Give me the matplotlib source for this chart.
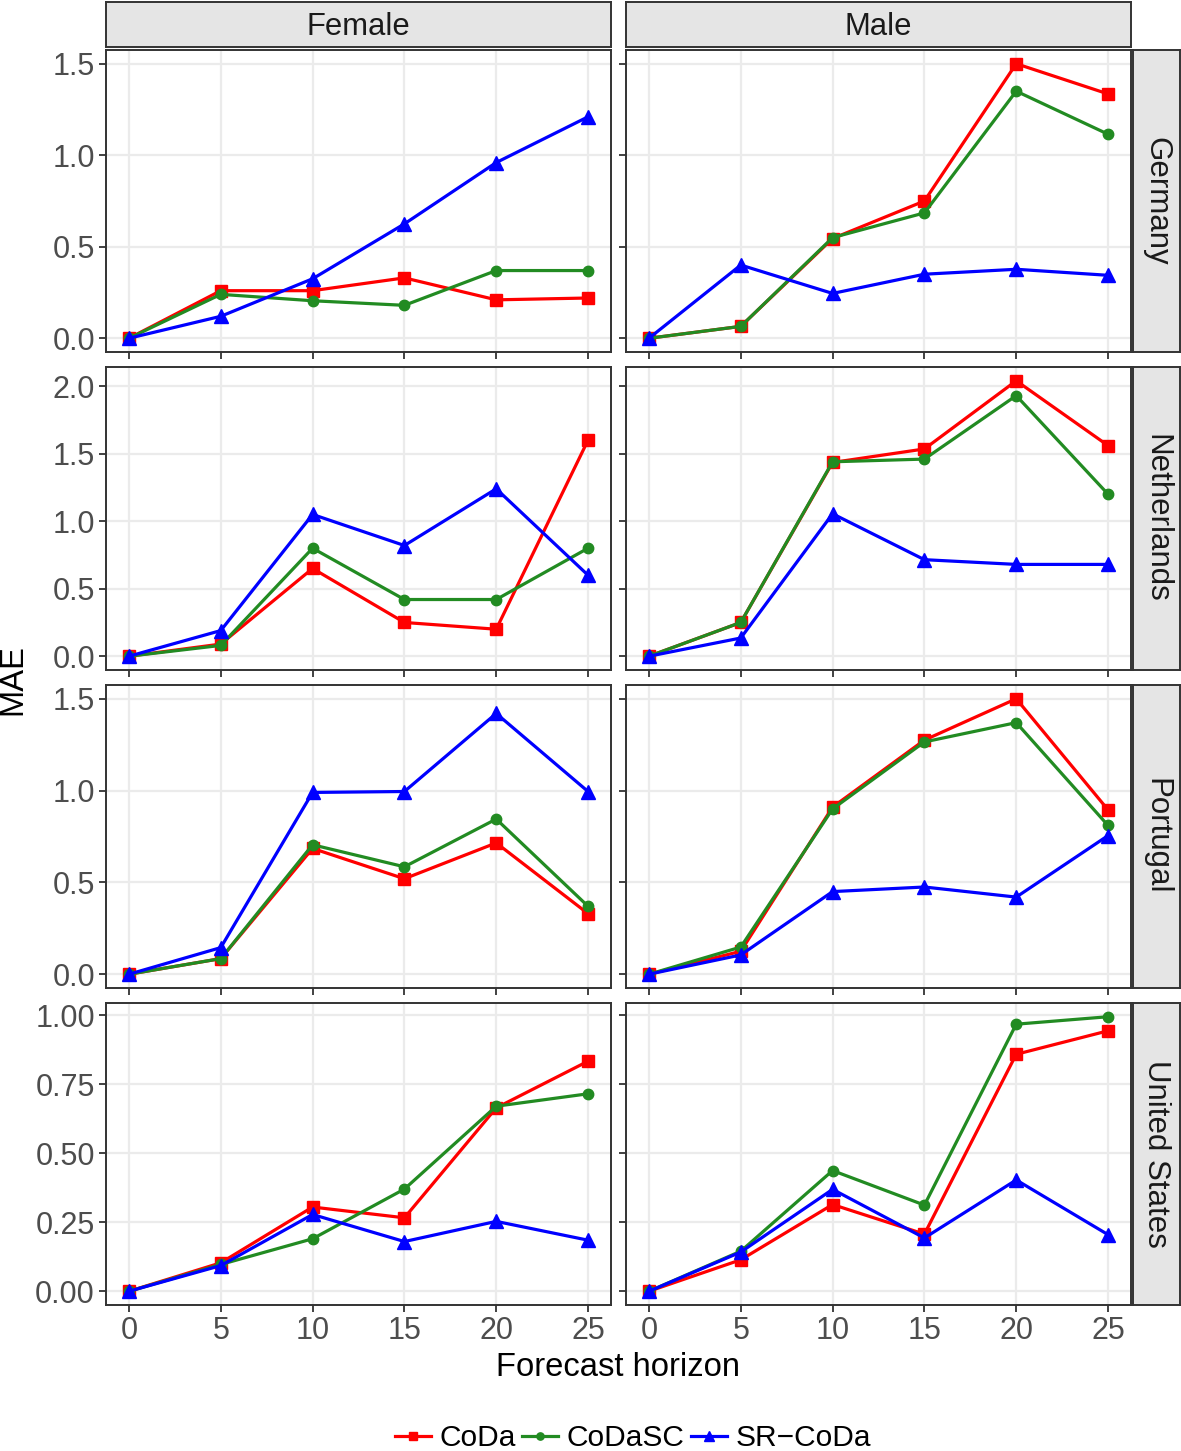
import matplotlib.pyplot as plt
from matplotlib.lines import Line2D

plt.rcParams['font.family'] = ['Liberation Sans', 'DejaVu Sans']

horizon = [0, 5, 10, 15, 20, 25]
sexes = ['Female', 'Male']
countries = ['Germany', 'Netherlands', 'Portugal', 'United States']
methods = ['CoDa', 'CoDaSC', 'SR\u2212CoDa']

# MAE values: mae[country][sex][method]
germany_female_coda = [0, 0.26, 0.26, 0.33, 0.21, 0.22]
germany_female_codasc = [0, 0.24, 0.205, 0.18, 0.37, 0.37]
germany_female_sr = [0, 0.12, 0.325, 0.625, 0.96, 1.21]
germany_male_coda = [0, 0.065, 0.545, 0.75, 1.5, 1.335]
germany_male_codasc = [0, 0.065, 0.55, 0.685, 1.35, 1.115]
germany_male_sr = [0, 0.40, 0.245, 0.35, 0.377, 0.344]

netherlands_female_coda = [0, 0.09, 0.65, 0.25, 0.20, 1.60]
netherlands_female_codasc = [0, 0.08, 0.80, 0.42, 0.42, 0.80]
netherlands_female_sr = [0, 0.19, 1.05, 0.82, 1.24, 0.60]
netherlands_male_coda = [0, 0.25, 1.435, 1.535, 2.04, 1.56]
netherlands_male_codasc = [0, 0.25, 1.44, 1.46, 1.93, 1.20]
netherlands_male_sr = [0, 0.135, 1.055, 0.715, 0.68, 0.68]

portugal_female_coda = [0, 0.085, 0.685, 0.52, 0.715, 0.33]
portugal_female_codasc = [0, 0.085, 0.705, 0.585, 0.845, 0.37]
portugal_female_sr = [0, 0.145, 0.99, 0.995, 1.42, 0.995]
portugal_male_coda = [0, 0.125, 0.91, 1.275, 1.50, 0.895]
portugal_male_codasc = [0, 0.148, 0.90, 1.265, 1.37, 0.81]
portugal_male_sr = [0, 0.105, 0.45, 0.475, 0.42, 0.755]

us_female_coda = [0, 0.103, 0.305, 0.266, 0.664, 0.833]
us_female_codasc = [0, 0.097, 0.19, 0.37, 0.67, 0.715]
us_female_sr = [0, 0.093, 0.278, 0.18, 0.253, 0.185]
us_male_coda = [0, 0.114, 0.314, 0.207, 0.858, 0.943]
us_male_codasc = [0, 0.145, 0.437, 0.312, 0.967, 0.994]
us_male_sr = [0, 0.142, 0.369, 0.193, 0.403, 0.205]

mae = {
    'Germany': [[germany_female_coda, germany_female_codasc, germany_female_sr],
                [germany_male_coda, germany_male_codasc, germany_male_sr]],
    'Netherlands': [[netherlands_female_coda, netherlands_female_codasc, netherlands_female_sr],
                    [netherlands_male_coda, netherlands_male_codasc, netherlands_male_sr]],
    'Portugal': [[portugal_female_coda, portugal_female_codasc, portugal_female_sr],
                 [portugal_male_coda, portugal_male_codasc, portugal_male_sr]],
    'United States': [[us_female_coda, us_female_codasc, us_female_sr],
                      [us_male_coda, us_male_codasc, us_male_sr]],
}
yticks = {
    'Germany': ([0, 0.5, 1.0, 1.5], ['0.0', '0.5', '1.0', '1.5']),
    'Netherlands': ([0, 0.5, 1.0, 1.5, 2.0], ['0.0', '0.5', '1.0', '1.5', '2.0']),
    'Portugal': ([0, 0.5, 1.0, 1.5], ['0.0', '0.5', '1.0', '1.5']),
    'United States': ([0, 0.25, 0.5, 0.75, 1.0], ['0.00', '0.25', '0.50', '0.75', '1.00']),
}

colors = ['#FF0000', '#228B22', '#0000FF']
markers = ['s', 'o', '^']
msizes = [8, 7.5, 10]

W, H = 1181, 1451
fig = plt.figure(figsize=(W / 100, H / 100), dpi=100)


def px_axes(x0, y0, x1, y1):
    return fig.add_axes([x0 / W, 1 - y1 / H, (x1 - x0) / W, (y1 - y0) / H])


col_px = [(106, 611), (626, 1131)]
row_px = [(50, 352), (367, 670), (685, 988), (1003, 1305)]
edge = '#333333'

for r, country in enumerate(countries):
    y0, y1 = row_px[r]
    first_ax = None
    for c, sex in enumerate(sexes):
        x0, x1 = col_px[c]
        ax = px_axes(x0, y0, x1, y1)
        if first_ax is not None:
            ax.sharey(first_ax)
        else:
            first_ax = ax
        for m in range(3):
            ax.plot(horizon, mae[country][c][m], color=colors[m], lw=2.3,
                    marker=markers[m], ms=msizes[m], zorder=3 + m)
        ax.set_xlim(-1.25, 26.25)
        ax.margins(y=0.05)
        ax.set_xticks(horizon)
        ax.set_yticks(yticks[country][0])
        ax.grid(True, color='#EBEBEB', lw=1.6, zorder=0)
        ax.set_axisbelow(True)
        for s in ax.spines.values():
            s.set_color(edge)
            s.set_linewidth(1.4)
        ax.tick_params(colors=edge, labelcolor='#4D4D4D', labelsize=22,
                       length=5, width=1.3, pad=3)
        if c == 0:
            ax.set_yticklabels(yticks[country][1])
        else:
            ax.tick_params(labelleft=False)
        if r < 3:
            ax.tick_params(labelbottom=False)

        # top strips
        if r == 0:
            st = px_axes(x0, 2, x1, 47)
            st.set_facecolor('#E5E5E5')
            st.set_xticks([])
            st.set_yticks([])
            for s in st.spines.values():
                s.set_color(edge)
                s.set_linewidth(1.4)
            st.text(0.5, 0.45, sex, ha='center', va='center', fontsize=22.3,
                    color='#1A1A1A', transform=st.transAxes)

    # right strip
    st = px_axes(1133, y0, 1180, y1)
    st.set_facecolor('#E5E5E5')
    st.set_xticks([])
    st.set_yticks([])
    for s in st.spines.values():
        s.set_color(edge)
        s.set_linewidth(1.4)
    st.text(0.5, 0.5, country, ha='center', va='center', fontsize=22.5,
            rotation=-90, color='#1A1A1A', transform=st.transAxes)

fig.text(618 / W, 1 - 1367 / H, 'Forecast horizon', ha='center', va='center',
         fontsize=23.6)
fig.text(13 / W, 1 - 680 / H, 'MAE', ha='center', va='center', fontsize=23.6,
         rotation=90)

handles = [Line2D([], [], color=colors[m], lw=2.3, marker=markers[m],
                  ms=msizes[m] * 0.7) for m in range(3)]
fig.legend(handles, methods, loc='center', ncol=3,
           bbox_to_anchor=(633 / W, 1 - 1438 / H), frameon=False,
           fontsize=21.5, handlelength=1.2, handletextpad=0.3,
           columnspacing=0.2)

fig.savefig('out.png', dpi=100)
